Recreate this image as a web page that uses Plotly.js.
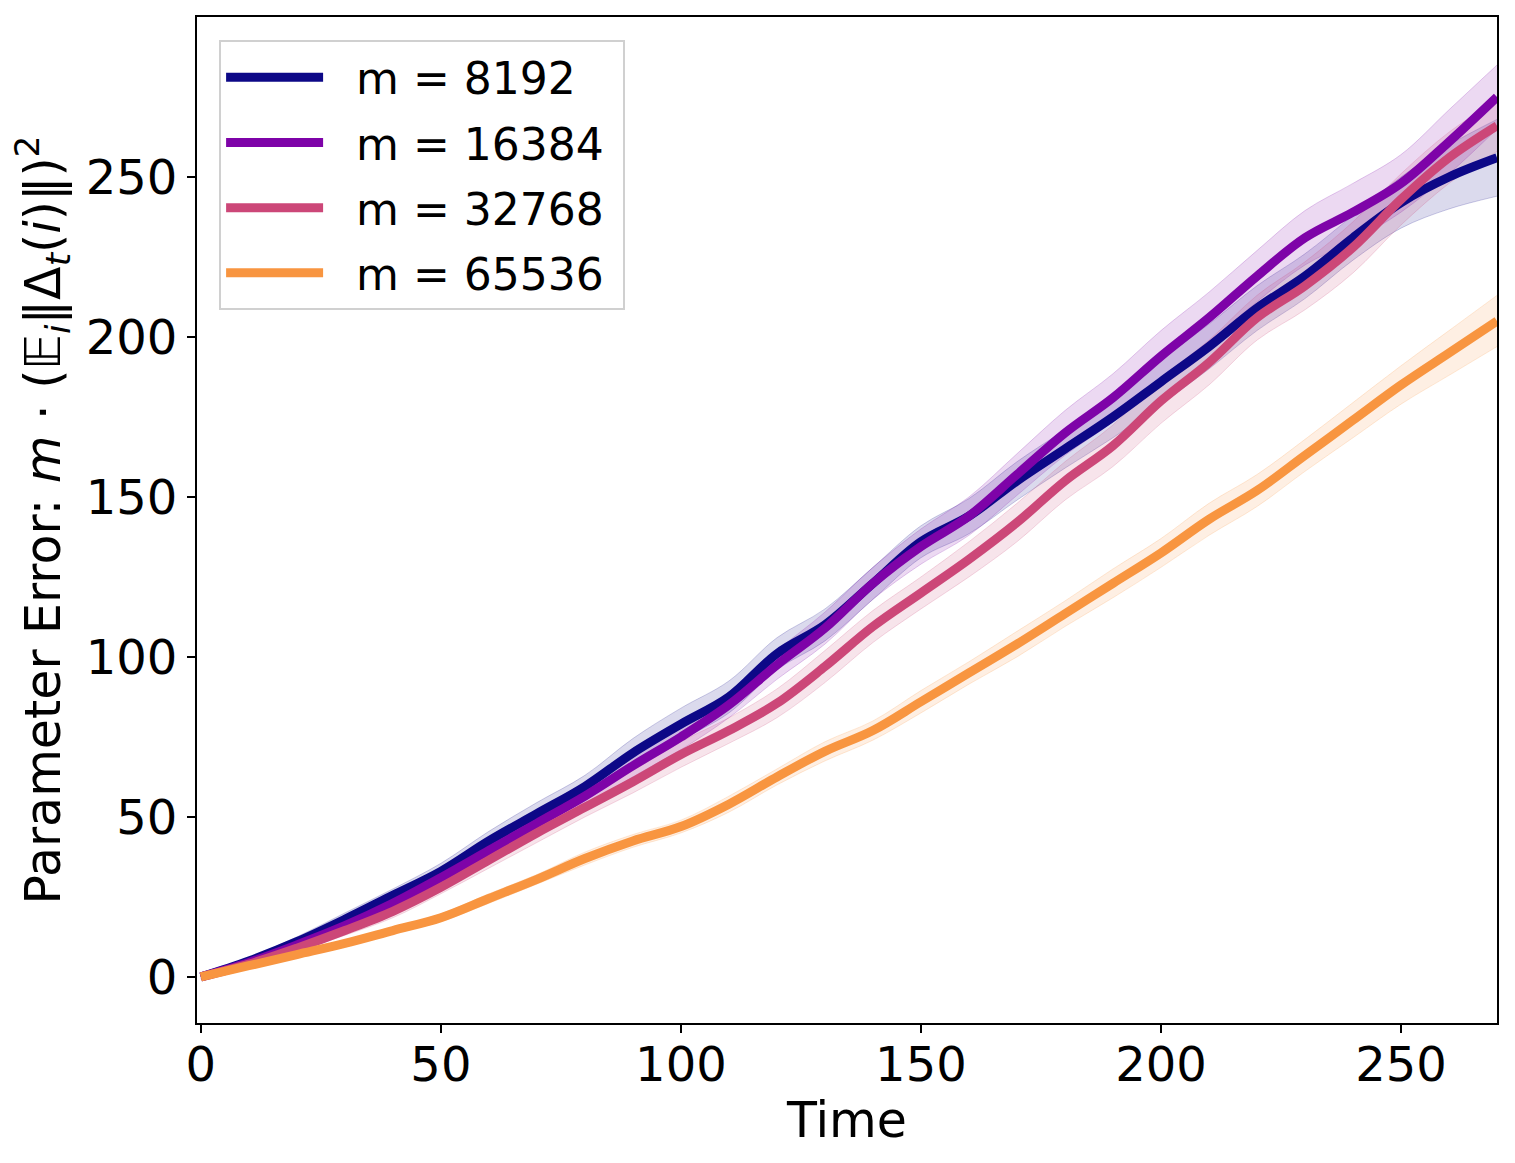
<!DOCTYPE html>
<html>
<head>
<meta charset="utf-8">
<script src="https://cdn.plot.ly/plotly-3.0.1.min.js"></script>
<style>
  body { margin: 0; background: #fff; }
  #plot { width: 1515px; height: 1163px; }
</style>
</head>
<body>
<div id="plot"></div>
<script>
// time steps
var time = [0, 10, 20, 30, 40, 50, 60, 70, 80, 90, 100, 110, 120, 130,
            140, 150, 160, 170, 180, 190, 200, 210, 220, 230, 240, 250, 260, 270];

// mean curves
var m8192  = [0, 5, 11, 18, 25.5, 33, 42.5, 51, 59.5, 70, 79, 87.5, 101, 110, 123, 136, 144, 155, 165, 175, 186, 197, 209, 219, 231, 242, 250, 256];
var m16384 = [0, 4.5, 10, 16, 23, 31, 39.5, 48, 56.5, 66, 75, 85, 97.5, 109, 123, 134.5, 144, 157, 170, 181, 194, 206, 219, 231, 239, 248, 261, 275];
var m32768 = [0, 4, 9, 14.5, 20.5, 28, 36.5, 45, 53, 61, 69.5, 77, 85.5, 97, 109.5, 120, 130.5, 142, 155, 166, 180, 192, 206, 216, 228, 243, 256, 266];
var m65536 = [0, 3.5, 7, 10.5, 14.5, 18.5, 24.5, 30.5, 37, 42.5, 47, 54, 62.5, 70.5, 77, 86, 95, 104, 113.5, 123, 132.5, 143, 152, 163, 174, 185, 195, 205];

// half width of the shaded bands
var s8192  = [0.5, 1, 1.5, 2, 2, 2.5, 3, 3.5, 3.5, 4.5, 5, 5, 5, 5, 5, 5, 5.5, 6, 6, 6.5, 7, 7, 7, 7, 7, 8, 10, 12];
var s16384 = [0.5, 1, 1, 1.5, 2, 2, 2.5, 3, 3, 3.5, 4, 4, 4.5, 5, 5, 5.5, 6, 6.5, 7, 7.5, 8, 8, 8, 8.5, 9, 9, 10, 10];
var s32768 = [0.5, 1, 1, 1.5, 2, 2, 2.5, 3, 3, 3.5, 4, 4, 4.5, 5, 5, 5, 5.5, 6, 6, 6.5, 7, 7, 7, 7.5, 8, 8, 8, 8];
var s65536 = [0.3, 0.5, 0.7, 1, 1, 1.2, 1.5, 1.5, 2, 2, 2, 2.5, 2.5, 3, 3, 3.5, 3.5, 4, 4, 4.5, 4.5, 5, 5, 5, 5.5, 6, 7, 8];

var names = ["m = 8192", "m = 16384", "m = 32768", "m = 65536"];
var means = [m8192, m16384, m32768, m65536];
var spreads = [s8192, s16384, s32768, s65536];
var colors = [[13, 8, 135], [126, 3, 168], [204, 71, 120], [248, 149, 64]];

var traces = [];

// shaded bands first, so all lines sit on top
for (var k = 0; k < means.length; k++) {
  var c = colors[k].join(",");
  var lo = means[k].map(function (v, i) { return v - spreads[k][i]; });
  var hi = means[k].map(function (v, i) { return v + spreads[k][i]; });
  traces.push({
    x: time, y: lo, mode: "lines", type: "scatter",
    line: { color: "rgba(" + c + ",0.2)", width: 1, shape: "spline" },
    showlegend: false, hoverinfo: "skip", legendgroup: "g" + k
  });
  traces.push({
    x: time, y: hi, mode: "lines", type: "scatter",
    fill: "tonexty", fillcolor: "rgba(" + c + ",0.15)",
    line: { color: "rgba(" + c + ",0.2)", width: 1, shape: "spline" },
    showlegend: false, hoverinfo: "skip", legendgroup: "g" + k
  });
}

for (var k = 0; k < means.length; k++) {
  traces.push({
    x: time, y: means[k], mode: "lines", type: "scatter",
    name: "\u00a0\u00a0" + names[k] + "\u00a0",
    legendgroup: "g" + k,
    line: { color: "rgb(" + colors[k].join(",") + ")", width: 9, shape: "spline" }
  });
}

var layout = {
  width: 1515,
  height: 1163,
  margin: { l: 197, r: 18, t: 17, b: 140 },
  paper_bgcolor: "#fff",
  plot_bgcolor: "#fff",
  font: { family: "DejaVu Sans", color: "#000" },
  showlegend: true,
  legend: {
    x: 0.017, y: 0.977, xanchor: "left", yanchor: "top",
    traceorder: "grouped",
    bgcolor: "rgba(255,255,255,0.8)",
    bordercolor: "#d0d0d0", borderwidth: 2,
    font: { family: "DejaVu Sans", size: 44, color: "#000" },
    itemwidth: 97,
    tracegroupgap: 5
  },
  xaxis: {
    range: [-0.8, 270],
    tickvals: [0, 50, 100, 150, 200, 250],
    showgrid: false, zeroline: false,
    showline: true, linecolor: "#000", linewidth: 2, mirror: true,
    ticks: "outside", ticklen: 8, tickwidth: 2, tickcolor: "#000",
    ticklabelstandoff: -10,
    tickfont: { family: "DejaVu Sans", size: 48, color: "#000" },
    title: {
      text: "Time",
      font: { family: "DejaVu Sans", size: 49, color: "#000" },
      standoff: 2
    }
  },
  yaxis: {
    range: [-14.4, 300],
    tickvals: [0, 50, 100, 150, 200, 250],
    showgrid: false, zeroline: false,
    showline: true, linecolor: "#000", linewidth: 2, mirror: true,
    ticks: "outside", ticklen: 8, tickwidth: 2, tickcolor: "#000",
    tickfont: { family: "DejaVu Sans", size: 48, color: "#000" },
    title: {
      text: "Parameter Error: <i>m</i> · (<i>𝔼<sub>i</sub></i>‖Δ<sub><i>t</i></sub>(<i>i</i>)‖)<sup>2</sup>",
      font: { family: "DejaVu Sans", size: 49, color: "#000" },
      standoff: 10
    }
  }
};

Plotly.newPlot("plot", traces, layout, { displayModeBar: false, staticPlot: true });
</script>
</body>
</html>
